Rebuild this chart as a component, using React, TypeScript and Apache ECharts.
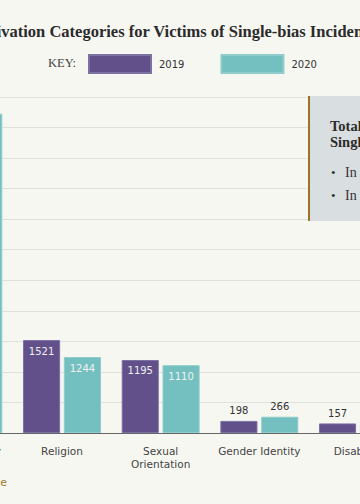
import React, { useEffect, useRef } from "react";
import * as echarts from "echarts";

const categories = [
  "Race/Ethnicity\nAncestry",
  "Religion",
  "Sexual\nOrientation",
  "Gender Identity",
  "Disability",
  "Gender",
];
const values2019 = [4930, 1521, 1195, 198, 157, 72];
const values2020 = [5227, 1244, 1110, 266, 130, 75];
const seriesNames = ["2019", "2020"];
const yTicks = { min: 0, max: 5500, interval: 500 };
const titleText = "Bias Motivation Categories for Victims of Single-bias Incidents";
const panelTitle = ["Total Victims of", "Single-bias Incidents"];
const panelBullets = ["In 2019: 8,073 victims", "In 2020: 8,052 victims"];

const PURPLE = "#615089";
const TEAL = "#74bfbf";
const OFFSET = 160; // chart div shifted left by this many px

function labelFor(inside: boolean) {
  return inside
    ? { show: true, position: "insideTop", distance: 6, color: "#f2f2f2" }
    : { show: true, position: "top", distance: 5, color: "#333" };
}

export default function App() {
  const ref = useRef<HTMLDivElement>(null);
  useEffect(() => {
    if (!ref.current) return;
    const chart = echarts.init(ref.current, undefined, { renderer: "svg" });
    const mk = (vals: number[]) =>
      vals.map((v) => ({ value: v, label: labelFor(v > 1000) }));
    const sans = "DejaVu Sans";
    const serif = "Liberation Serif";
    chart.setOption({
      animation: false,
      backgroundColor: "#f7f7f2",
      grid: { left: 74, right: 94, top: 97, bottom: 71, containLabel: false },
      legend: {
        data: seriesNames,
        left: 88 + OFFSET,
        top: 54,
        itemWidth: 62,
        itemHeight: 18,
        itemGap: 36,
        padding: 0,
        icon: "rect",
        textStyle: { fontFamily: sans, fontSize: 10, color: "#333", padding: [0, 0, 0, 3] },
      },
      xAxis: {
        type: "category",
        data: categories,
        axisLine: { lineStyle: { color: "#666", width: 1 } },
        axisTick: { alignWithLabel: true, length: 4, lineStyle: { color: "#666" } },
        axisLabel: {
          fontFamily: sans,
          fontSize: 10.5,
          color: "#444",
          margin: 11,
          lineHeight: 13,
          interval: 0,
        },
      },
      yAxis: {
        type: "value",
        min: yTicks.min,
        max: yTicks.max,
        interval: yTicks.interval,
        axisLabel: { fontFamily: sans, fontSize: 10, color: "#444" },
        splitLine: { lineStyle: { color: "#e1e1dc", width: 1 } },
      },
      series: [
        {
          name: seriesNames[0],
          type: "bar",
          data: mk(values2019),
          itemStyle: { color: PURPLE, borderColor: "#7d70a3", borderWidth: 1 },
          barGap: "10%",
          barCategoryGap: "21%",
          label: { fontFamily: sans, fontSize: 10 },
        },
        {
          name: seriesNames[1],
          type: "bar",
          data: mk(values2020),
          itemStyle: { color: TEAL, borderColor: "#8fcccc", borderWidth: 1 },
          barGap: "10%",
          barCategoryGap: "21%",
          label: { fontFamily: sans, fontSize: 10 },
        },
      ],
      graphic: [
        {
          type: "text",
          x: OFFSET - 67,
          y: 31,
          style: {
            text: titleText,
            font: `bold 16.5px "${serif}"`,
            fill: "#2b2b2b",
            verticalAlign: "middle",
          },
        },
        {
          type: "text",
          x: OFFSET + 48,
          y: 63,
          style: { text: "KEY:", font: `12.5px "${serif}"`, fill: "#444", verticalAlign: "middle" },
        },
        {
          type: "group",
          z: 100,
          children: [
            {
              type: "rect",
              shape: { x: OFFSET + 308, y: 96, width: 300, height: 125 },
              style: { fill: "#d9dfe0" },
              z: 100,
            },
            {
              type: "rect",
              shape: { x: OFFSET + 308, y: 96, width: 2, height: 125 },
              style: { fill: "#9a7428" },
              z: 101,
            },
            {
              type: "text",
              x: OFFSET + 330,
              y: 126,
              z: 102,
              style: {
                text: panelTitle[0],
                font: `bold 14.5px "${serif}"`,
                fill: "#2b2b2b",
                verticalAlign: "middle",
              },
            },
            {
              type: "text",
              x: OFFSET + 330,
              y: 142,
              z: 102,
              style: {
                text: panelTitle[1],
                font: `bold 14.5px "${serif}"`,
                fill: "#2b2b2b",
                verticalAlign: "middle",
              },
            },
            ...panelBullets.flatMap((b, i) => [
              {
                type: "text",
                x: OFFSET + 331,
                y: 172 + i * 23,
                z: 102,
                style: { text: "•", font: `13px "${serif}"`, fill: "#333", verticalAlign: "middle" },
              },
              {
                type: "text",
                x: OFFSET + 345,
                y: 172 + i * 23,
                z: 102,
                style: { text: b, font: `14px "${serif}"`, fill: "#333", verticalAlign: "middle" },
              },
            ]),
          ],
        },
        {
          type: "text",
          x: OFFSET + 7,
          y: 482,
          style: {
            text: "Download image",
            font: `11px "${sans}"`,
            fill: "#a07a2a",
            align: "right",
            verticalAlign: "middle",
          },
        },
      ],
    });
    return () => chart.dispose();
  }, []);
  return (
    <div
      style={{
        position: "fixed",
        left: 0,
        top: 0,
        width: 360,
        height: 504,
        overflow: "hidden",
        background: "#f7f7f2",
      }}
    >
      <div
        ref={ref}
        style={{ position: "absolute", left: -OFFSET, top: 0, width: 760, height: 504 }}
      />
    </div>
  );
}
